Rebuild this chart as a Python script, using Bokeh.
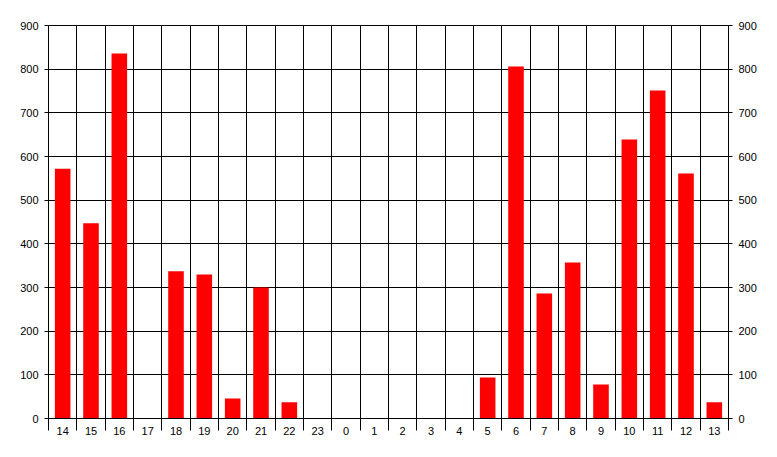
from bokeh.plotting import figure
from bokeh.models import Range1d, LinearAxis, FixedTicker
from bokeh.embed import file_html
from bokeh.resources import INLINE

hours = ["14", "15", "16", "17", "18", "19", "20", "21", "22", "23", "0", "1",
         "2", "3", "4", "5", "6", "7", "8", "9", "10", "11", "12", "13"]
values = [572, 447, 836, 0, 337, 330, 46, 300, 37, 0, 0, 0,
          0, 0, 0, 94, 806, 286, 357, 78, 639, 751, 561, 37]
y_ticks = [0, 100, 200, 300, 400, 500, 600, 700, 800, 900]

n = len(hours)
xs = [i + 0.5 for i in range(n)]
bounds = list(range(n + 1))

p = figure(width=769, height=449, output_backend="svg", toolbar_location=None,
           x_range=Range1d(0, n), y_range=Range1d(0, 900),
           min_border_left=48, min_border_right=41, min_border_top=25, min_border_bottom=31)
p.background_fill_color = "white"
p.border_fill_color = "white"
p.outline_line_color = "black"
p.outline_line_width = 1

p.vbar(x=xs, top=values, bottom=0, width=0.55, fill_color="#FF0000", line_color=None)

font = "Liberation Sans"

# bottom axis
xa = p.xaxis[0]
xa.ticker = FixedTicker(ticks=xs, minor_ticks=bounds)
xa.major_label_overrides = {x: h for x, h in zip(xs, hours)}
xa.major_tick_out = 0
xa.major_tick_in = 0
xa.major_tick_line_color = None
xa.minor_tick_out = 12
xa.minor_tick_in = 0
xa.minor_tick_line_color = "black"
xa.axis_line_color = "black"
xa.major_label_standoff = -4
xa.major_label_text_font = font
xa.major_label_text_font_size = "11px"
xa.major_label_text_color = "black"

# left axis
ya = p.yaxis[0]
ya.ticker = FixedTicker(ticks=y_ticks)
ya.major_tick_out = 4
ya.major_tick_in = 0
ya.minor_tick_line_color = None
ya.axis_line_color = "black"
ya.major_label_standoff = 6
ya.major_label_text_font = font
ya.major_label_text_font_size = "11px"
ya.major_label_text_color = "black"

# right axis
ra = LinearAxis(ticker=FixedTicker(ticks=y_ticks))
ra.major_tick_out = 4
ra.major_tick_in = 0
ra.minor_tick_line_color = None
ra.axis_line_color = "black"
ra.major_label_standoff = 6
ra.major_label_text_font = font
ra.major_label_text_font_size = "11px"
ra.major_label_text_color = "black"
p.add_layout(ra, "right")

# grids
p.xgrid.ticker = FixedTicker(ticks=bounds)
p.xgrid.grid_line_color = "black"
p.xgrid.grid_line_alpha = 1
p.ygrid.ticker = FixedTicker(ticks=y_ticks)
p.ygrid.grid_line_color = "black"
p.ygrid.grid_line_alpha = 1
p.xgrid.level = "underlay"
p.ygrid.level = "underlay"

open("out.html", "w").write(file_html(p, INLINE))
